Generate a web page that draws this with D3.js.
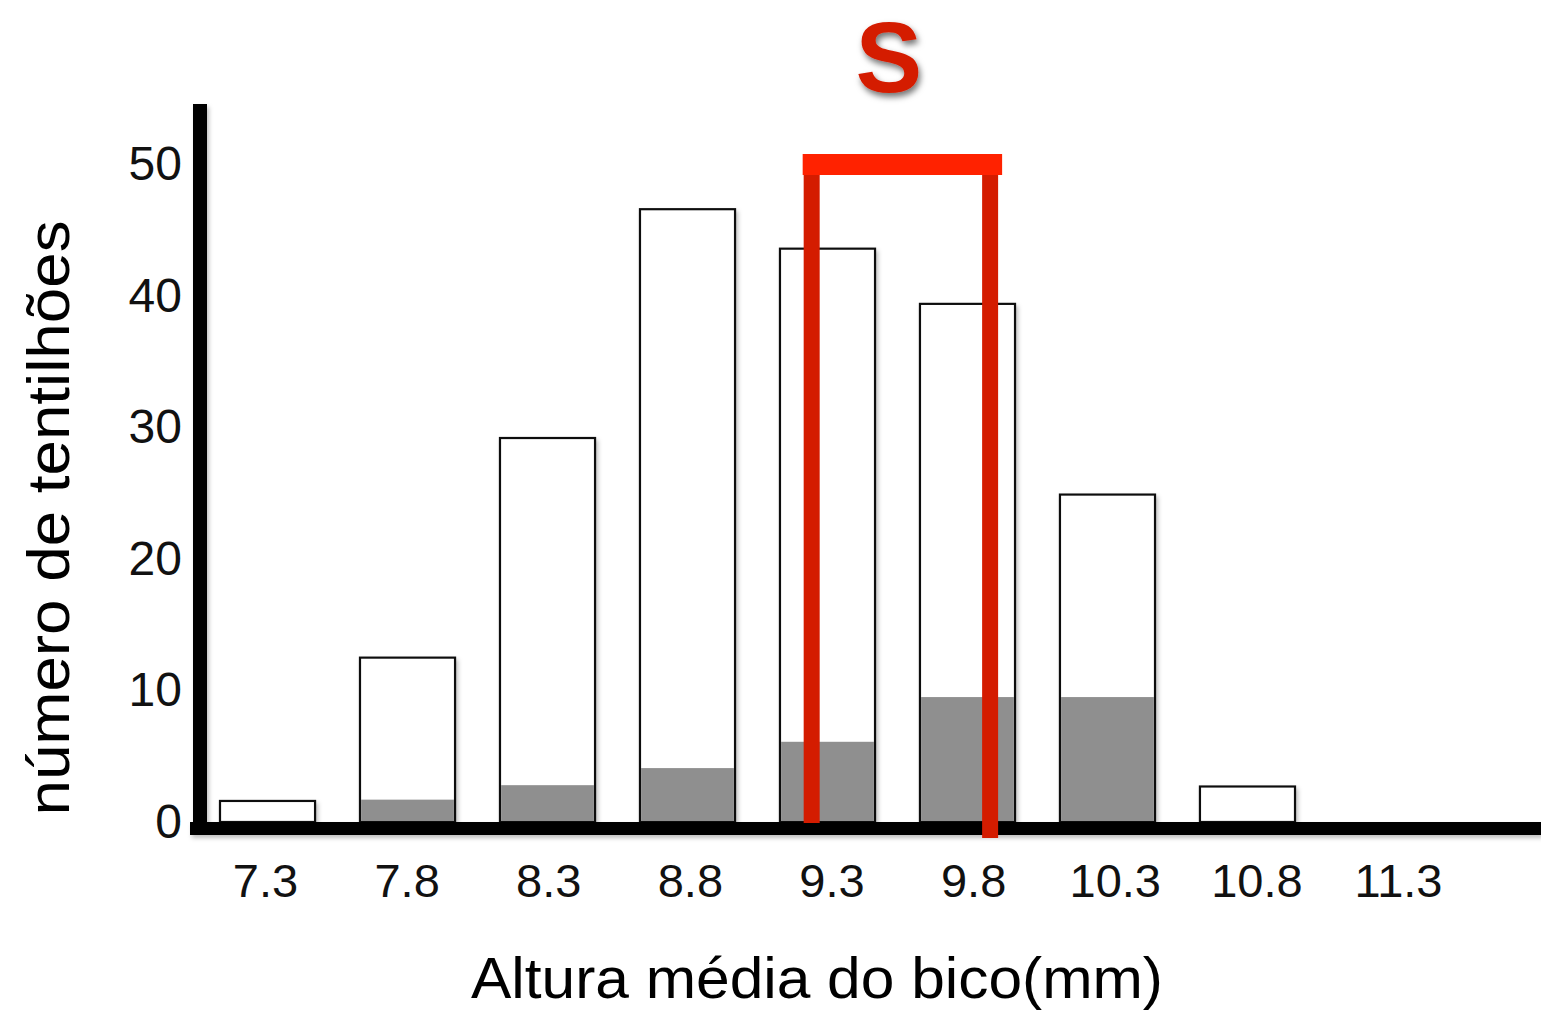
<!DOCTYPE html>
<html>
<head>
<meta charset="utf-8">
<script src="https://cdn.jsdelivr.net/npm/d3@7"></script>
<style>
  html, body { margin: 0; padding: 0; background: #fff; }
  svg { display: block; font-family: "Liberation Sans", Arial, Helvetica, sans-serif; }
</style>
</head>
<body>
<svg id="chart" width="1541" height="1015"></svg>
<script>
// Beak-depth classes (mm)
const categories = ["7.3", "7.8", "8.3", "8.8", "9.3", "9.8", "10.3", "10.8", "11.3"];
// Number of finches in each class before the drought (open bars)
const totalCounts = [1.6, 12.5, 29.2, 46.6, 43.6, 39.4, 24.9, 2.7, 0];
// Number of survivors in each class (grey fill)
const survivorCounts = [0, 1.7, 2.8, 4.1, 6.1, 9.5, 9.5, 0, 0];
// Y-axis tick values
const yTicks = [0, 10, 20, 30, 40, 50];
// Selection bracket: beak-depth span and height (in count units)
const selectionRange = [9.23, 9.86];
const selectionLevel = 50;
const selectionLabel = "S";

const svg = d3.select("#chart");

const defs = svg.append("defs");
const soft = defs.append("filter").attr("id", "soft")
  .attr("x", "-10%").attr("y", "-10%").attr("width", "130%").attr("height", "130%");
soft.append("feDropShadow").attr("dx", 2).attr("dy", 3).attr("stdDeviation", 2)
  .attr("flood-color", "#000").attr("flood-opacity", 0.25);
const sShadow = defs.append("filter").attr("id", "sShadow")
  .attr("x", "-30%").attr("y", "-30%").attr("width", "160%").attr("height", "160%");
sShadow.append("feDropShadow").attr("dx", 2).attr("dy", 4).attr("stdDeviation", 3)
  .attr("flood-color", "#000").attr("flood-opacity", 0.55);

// Scales
const y = d3.scaleLinear().domain([0, 54.6]).range([822, 104]);
const xBand = d3.scaleBand().domain(categories).range([220, 1435])
  .paddingInner(0.321).paddingOuter(0);
const xLabel = d3.scalePoint().domain(categories).range([265, 1398]);
const xDepth = d3.scaleLinear().domain([+categories[0], +categories[categories.length - 1]])
  .range([265, 1398]);

const rows = categories.map((c, i) => ({ c, total: totalCounts[i], surv: survivorCounts[i] }));

// Open bars (all birds)
const bars = svg.append("g").attr("filter", "url(#soft)");
bars.selectAll("rect.total")
  .data(rows.filter(d => d.total > 0))
  .join("rect")
  .attr("class", "total")
  .attr("x", d => xBand(d.c))
  .attr("width", xBand.bandwidth())
  .attr("y", d => y(d.total))
  .attr("height", d => y(0) - y(d.total))
  .attr("fill", "#fff")
  .attr("stroke", "#111")
  .attr("stroke-width", 2.2);

// Grey fill (survivors)
bars.selectAll("rect.surv")
  .data(rows.filter(d => d.surv > 0))
  .join("rect")
  .attr("class", "surv")
  .attr("x", d => xBand(d.c) + 1.1)
  .attr("width", xBand.bandwidth() - 2.2)
  .attr("y", d => y(d.surv))
  .attr("height", d => y(0) - y(d.surv) - 1)
  .attr("fill", "#8f8f8f");

// Axis lines
const axisG = svg.append("g").attr("filter", "url(#soft)");
axisG.append("line")
  .attr("x1", 200).attr("x2", 200)
  .attr("y1", y.range()[1]).attr("y2", y(0) + 13)
  .attr("stroke", "#000").attr("stroke-width", 14);
axisG.append("line")
  .attr("x1", 190).attr("x2", 1541)
  .attr("y1", y(0) + 6.5).attr("y2", y(0) + 6.5)
  .attr("stroke", "#000").attr("stroke-width", 13);

// Y tick labels
const yAxis = svg.append("g")
  .attr("transform", "translate(200,0)")
  .call(d3.axisLeft(y).tickValues(yTicks).tickSize(0).tickPadding(18).tickFormat(d3.format("d")));
yAxis.select(".domain").remove();
yAxis.selectAll("text")
  .attr("font-size", 48)
  .attr("font-family", "'Liberation Sans', Arial, sans-serif")
  .attr("fill", "#111");

// X tick labels
const xAxis = svg.append("g")
  .attr("transform", `translate(0,${y(0)})`)
  .call(d3.axisBottom(xLabel).tickSize(0).tickPadding(42));
xAxis.select(".domain").remove();
xAxis.selectAll("text")
  .attr("font-size", 47)
  .attr("font-family", "'Liberation Sans', Arial, sans-serif")
  .attr("fill", "#111");

// Axis titles
svg.append("text")
  .attr("x", 817).attr("y", 998)
  .attr("text-anchor", "middle")
  .attr("font-size", 57)
  .attr("textLength", 692).attr("lengthAdjust", "spacingAndGlyphs")
  .attr("fill", "#000")
  .text("Altura média do bico(mm)");

svg.append("text")
  .attr("transform", "translate(69,518) rotate(-90)")
  .attr("text-anchor", "middle")
  .attr("font-size", 59)
  .attr("textLength", 595).attr("lengthAdjust", "spacingAndGlyphs")
  .attr("fill", "#000")
  .text("número de tentilhões");

// Selection bracket
const bx0 = xDepth(selectionRange[0]);
const bx1 = xDepth(selectionRange[1]);
const by = y(selectionLevel);
const bracket = svg.append("g");
bracket.append("line")
  .attr("x1", bx0).attr("x2", bx0)
  .attr("y1", by - 10).attr("y2", y(0) + 1)
  .attr("stroke", "#d41c00").attr("stroke-width", 16);
bracket.append("line")
  .attr("x1", bx1).attr("x2", bx1)
  .attr("y1", by - 10).attr("y2", y(0) + 16)
  .attr("stroke", "#d41c00").attr("stroke-width", 16);
bracket.append("line")
  .attr("x1", bx0 - 9).attr("x2", bx1 + 12)
  .attr("y1", by).attr("y2", by)
  .attr("stroke", "#ff2200").attr("stroke-width", 21);

svg.append("text")
  .attr("x", (bx0 + bx1) / 2 - 12).attr("y", 92)
  .attr("text-anchor", "middle")
  .attr("font-size", 100)
  .attr("font-weight", "bold")
  .attr("fill", "#d41c00")
  .attr("filter", "url(#sShadow)")
  .text(selectionLabel);
</script>
</body>
</html>
